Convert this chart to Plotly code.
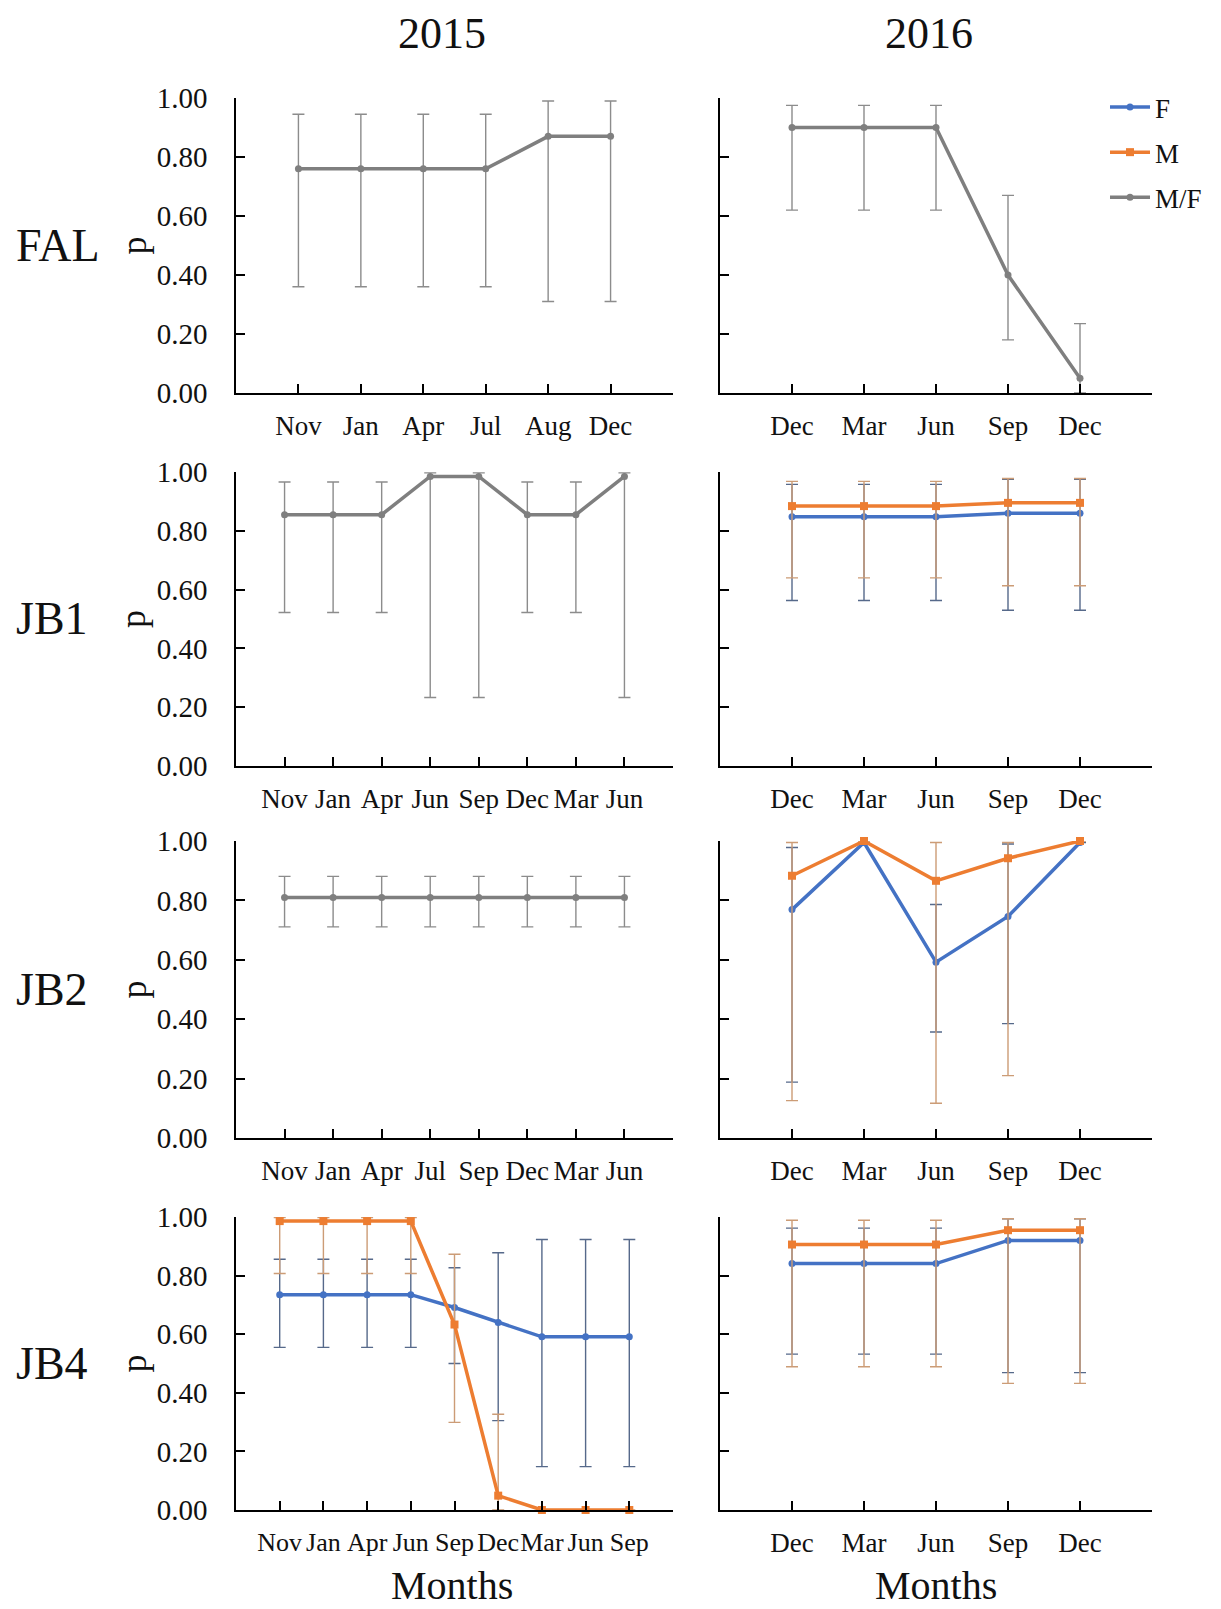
import plotly.graph_objects as go
from plotly.subplots import make_subplots

W, H = 1221, 1609

# ---------------- data ----------------
fal15_months = ["Nov", "Jan", "Apr", "Jul", "Aug", "Dec"]
fal15_mf = [0.76, 0.76, 0.76, 0.76, 0.87, 0.87]
fal15_mf_hi = [0.945, 0.945, 0.945, 0.945, 0.99, 0.99]
fal15_mf_lo = [0.36, 0.36, 0.36, 0.36, 0.31, 0.31]

fal16_months = ["Dec", "Mar", "Jun", "Sep", "Dec"]
fal16_mf = [0.90, 0.90, 0.90, 0.40, 0.05]
fal16_mf_hi = [0.975, 0.975, 0.975, 0.67, 0.235]
fal16_mf_lo = [0.62, 0.62, 0.62, 0.18, 0.0]

jb1_15_months = ["Nov", "Jan", "Apr", "Jun", "Sep", "Dec", "Mar", "Jun"]
jb1_15_mf = [0.855, 0.855, 0.855, 0.985, 0.985, 0.855, 0.855, 0.985]
jb1_15_mf_hi = [0.966, 0.966, 0.966, 0.997, 0.997, 0.966, 0.966, 0.997]
jb1_15_mf_lo = [0.522, 0.522, 0.522, 0.233, 0.233, 0.522, 0.522, 0.233]

jb1_16_months = ["Dec", "Mar", "Jun", "Sep", "Dec"]
jb1_16_f = [0.848, 0.848, 0.848, 0.86, 0.86]
jb1_16_f_hi = [0.958, 0.958, 0.958, 0.975, 0.975]
jb1_16_f_lo = [0.563, 0.563, 0.563, 0.53, 0.53]
jb1_16_m = [0.884, 0.884, 0.884, 0.895, 0.895]
jb1_16_m_hi = [0.968, 0.968, 0.968, 0.978, 0.978]
jb1_16_m_lo = [0.64, 0.64, 0.64, 0.613, 0.613]

jb2_15_months = ["Nov", "Jan", "Apr", "Jul", "Sep", "Dec", "Mar", "Jun"]
jb2_15_mf = [0.81, 0.81, 0.81, 0.81, 0.81, 0.81, 0.81, 0.81]
jb2_15_mf_hi = [0.881, 0.881, 0.881, 0.881, 0.881, 0.881, 0.881, 0.881]
jb2_15_mf_lo = [0.711, 0.711, 0.711, 0.711, 0.711, 0.711, 0.711, 0.711]

jb2_16_months = ["Dec", "Mar", "Jun", "Sep", "Dec"]
jb2_16_f = [0.769, 0.995, 0.592, 0.746, 0.995]
jb2_16_f_hi = [0.978, 0.995, 0.786, 0.99, 0.995]
jb2_16_f_lo = [0.188, 0.995, 0.357, 0.385, 0.995]
jb2_16_m = [0.883, 1.0, 0.866, 0.942, 1.0]
jb2_16_m_hi = [0.995, 1.0, 0.995, 0.995, 1.0]
jb2_16_m_lo = [0.126, 1.0, 0.117, 0.21, 1.0]

jb4_15_months = ["Nov", "Jan", "Apr", "Jun", "Sep", "Dec", "Mar", "Jun", "Sep"]
jb4_15_f = [0.735, 0.735, 0.735, 0.735, 0.691, 0.64, 0.591, 0.591, 0.591]
jb4_15_f_hi = [0.856, 0.856, 0.856, 0.856, 0.827, 0.878, 0.923, 0.923, 0.923]
jb4_15_f_lo = [0.555, 0.555, 0.555, 0.555, 0.50, 0.305, 0.148, 0.148, 0.148]
jb4_15_m = [0.986, 0.986, 0.986, 0.986, 0.633, 0.049, 0.0, 0.0, 0.0]
jb4_15_m_hi = [0.998, 0.998, 0.998, 0.998, 0.873, 0.327, 0.0, 0.0, 0.0]
jb4_15_m_lo = [0.807, 0.807, 0.807, 0.807, 0.299, 0.0, 0.0, 0.0, 0.0]

jb4_16_months = ["Dec", "Mar", "Jun", "Sep", "Dec"]
jb4_16_f = [0.841, 0.841, 0.841, 0.92, 0.92]
jb4_16_f_hi = [0.962, 0.962, 0.962, 0.994, 0.994]
jb4_16_f_lo = [0.532, 0.532, 0.532, 0.469, 0.469]
jb4_16_m = [0.906, 0.906, 0.906, 0.955, 0.955]
jb4_16_m_hi = [0.989, 0.989, 0.989, 0.994, 0.994]
jb4_16_m_lo = [0.489, 0.489, 0.489, 0.432, 0.432]

years = ["2015", "2016"]
sites = ["FAL", "JB1", "JB2", "JB4"]
y_ticks = [0.0, 0.2, 0.4, 0.6, 0.8, 1.0]

# ---------------- styles ----------------
FONT = "Liberation Serif"
STY = {
    "F": dict(color="#4472C4", err="#56698A", symbol="circle", size=7, rank=1),
    "M": dict(color="#ED7D31", err="#CC9C76", symbol="square", size=8, rank=2),
    "M/F": dict(color="#7F7F7F", err="#8C8C8C", symbol="circle", size=7, rank=3),
}

panels = [
    (1, 1, fal15_months, [("M/F", fal15_mf, fal15_mf_hi, fal15_mf_lo)]),
    (1, 2, fal16_months, [("M/F", fal16_mf, fal16_mf_hi, fal16_mf_lo)]),
    (2, 1, jb1_15_months, [("M/F", jb1_15_mf, jb1_15_mf_hi, jb1_15_mf_lo)]),
    (2, 2, jb1_16_months, [("F", jb1_16_f, jb1_16_f_hi, jb1_16_f_lo),
                           ("M", jb1_16_m, jb1_16_m_hi, jb1_16_m_lo)]),
    (3, 1, jb2_15_months, [("M/F", jb2_15_mf, jb2_15_mf_hi, jb2_15_mf_lo)]),
    (3, 2, jb2_16_months, [("F", jb2_16_f, jb2_16_f_hi, jb2_16_f_lo),
                           ("M", jb2_16_m, jb2_16_m_hi, jb2_16_m_lo)]),
    (4, 1, jb4_15_months, [("F", jb4_15_f, jb4_15_f_hi, jb4_15_f_lo),
                           ("M", jb4_15_m, jb4_15_m_hi, jb4_15_m_lo)]),
    (4, 2, jb4_16_months, [("F", jb4_16_f, jb4_16_f_hi, jb4_16_f_lo),
                           ("M", jb4_16_m, jb4_16_m_hi, jb4_16_m_lo)]),
]

# pixel layout
col_px = {1: (236, 673), 2: (720, 1152)}
row_px = {1: (98, 393), 2: (472, 766), 3: (841, 1138), 4: (1217, 1510)}
year_x = {1: 442, 2: 929}
months_x = {1: 452, 2: 936}

fig = make_subplots(rows=4, cols=2)

shown = set()
for r, c, months, series in panels:
    n = len(months)
    xs = list(range(n))
    for name, vals, hi, lo in series:
        s = STY[name]
        plus = [h - v for h, v in zip(hi, vals)]
        minus = [v - l for v, l in zip(vals, lo)]
        fig.add_trace(go.Scatter(
            x=xs, y=vals, name=name, mode="lines+markers",
            line=dict(color=s["color"], width=3.5),
            marker=dict(color=s["color"], symbol=s["symbol"], size=s["size"]),
            error_y=dict(type="data", array=plus, arrayminus=minus, visible=True,
                         color=s["err"], thickness=1.4, width=6),
            cliponaxis=False,
            legendgroup=name, legendrank=s["rank"],
            showlegend=name not in shown,
        ), row=r, col=c)
        shown.add(name)
    ax_idx = (r - 1) * 2 + c
    xk = "xaxis" if ax_idx == 1 else f"xaxis{ax_idx}"
    yk = "yaxis" if ax_idx == 1 else f"yaxis{ax_idx}"
    x0, x1 = col_px[c]
    y0, y1 = row_px[r]
    fig.layout[xk].update(
        domain=[x0 / W, x1 / W], range=[-1, n], automargin=False,
        tickmode="array", tickvals=list(range(-1, n + 1)),
        ticktext=[""] + months + [""], tickangle=0,
        showline=True, linecolor="black", linewidth=1.5,
        ticks="inside", ticklen=9, tickcolor="black", tickwidth=1.5,
        showgrid=False, zeroline=False, ticklabelstandoff=8,
        tickfont=dict(family=FONT, size=(26 if n > 8 else 27), color="#111"),
    )
    fig.layout[yk].update(
        domain=[1 - y1 / H, 1 - y0 / H], range=[0, 1], automargin=False,
        tickmode="array", tickvals=y_ticks, tickformat=".2f",
        showticklabels=(c == 1),
        showline=True, linecolor="black", linewidth=1.5,
        ticks="inside", ticklen=9, tickcolor="black", tickwidth=1.5,
        showgrid=False, zeroline=False, ticklabelstandoff=21,
        tickfont=dict(family=FONT, size=29, color="#111"),
    )

annotations = []
for c, yr in zip((1, 2), years):
    annotations.append(dict(x=year_x[c] / W, y=1 - 33 / H, text=yr, showarrow=False,
                            xref="paper", yref="paper", xanchor="center", yanchor="middle",
                            font=dict(family=FONT, size=44, color="#111")))
    annotations.append(dict(x=months_x[c] / W, y=1 - 1585 / H, text="Months", showarrow=False,
                            xref="paper", yref="paper", xanchor="center", yanchor="middle",
                            font=dict(family=FONT, size=40, color="#111")))
for r, site in zip((1, 2, 3, 4), sites):
    ymid = (row_px[r][0] + row_px[r][1]) / 2
    annotations.append(dict(x=14 / W, y=1 - ymid / H, text=site, showarrow=False,
                            xref="paper", yref="paper", xanchor="left", yanchor="middle",
                            font=dict(family=FONT, size=46, color="#111")))
    annotations.append(dict(x=133 / W, y=1 - ymid / H, text="p", showarrow=False, textangle=-90,
                            xref="paper", yref="paper", xanchor="center", yanchor="middle",
                            font=dict(family=FONT, size=36, color="#111")))

fig.update_layout(
    width=W, height=H, autosize=False,
    margin=dict(l=0, r=0, t=0, b=0, autoexpand=False),
    paper_bgcolor="white", plot_bgcolor="white",
    annotations=annotations,
    legend=dict(x=1105 / W, y=1 - 83 / H, xanchor="left", yanchor="top",
                font=dict(family=FONT, size=27, color="#111"),
                bgcolor="rgba(0,0,0,0)", tracegroupgap=7, itemwidth=40,
                traceorder="grouped"),
)

fig.write_html("out.html")
